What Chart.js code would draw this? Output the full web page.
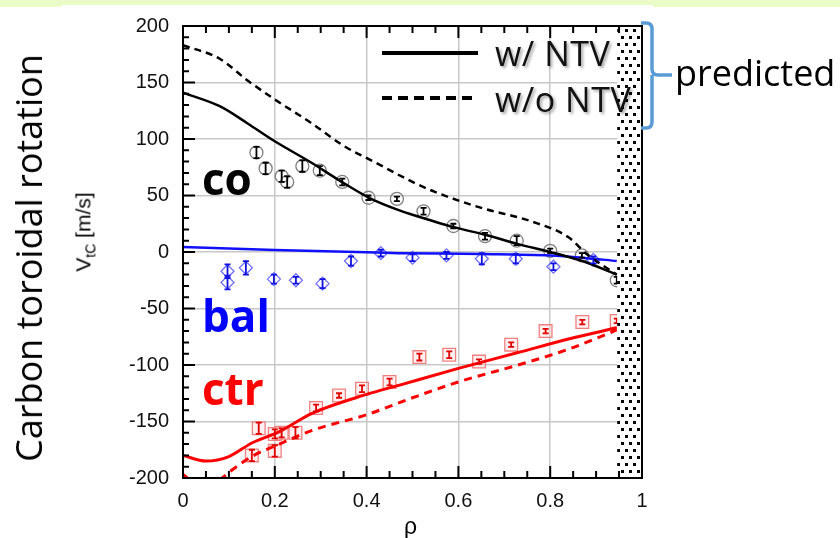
<!DOCTYPE html>
<html>
<head>
<meta charset="utf-8">
<script src="https://cdn.jsdelivr.net/npm/chart.js@4.4.0/dist/chart.umd.min.js"></script>
<style>
html, body { margin: 0; padding: 0; background: #fff; }
#wrap { position: relative; width: 840px; height: 538px; overflow: hidden; background: #fff; }
#chart { position: absolute; left: 0; top: 0; }
.band { position: absolute; background: #ecfcc8; }
.txt { position: absolute; white-space: nowrap; line-height: 1; }
.rot { transform: translate(-50%, -50%) rotate(-90deg); }
.cal { font-family: "Open Sans", "Noto Sans", sans-serif; }
.legtxt { font-size: 34px; letter-spacing: 0.5px; color: #111; text-shadow: 2px 2px 3px rgba(0,0,0,0.35); }
.big { font-family: "Open Sans", sans-serif; font-weight: bold; font-size: 44px; }
</style>
</head>
<body>
<div id="wrap">
  <div class="band" style="left:0;top:0;width:840px;height:5px"></div>
  <div class="band" style="left:0;top:5px;width:62px;height:2px"></div>
  <div class="band" style="left:653px;top:5px;width:187px;height:2px"></div>
  <canvas id="chart" width="840" height="538"></canvas>

  <div class="txt cal rot" style="left:29px;top:258px;font-size:36px">Carbon toroidal rotation</div>
  <div class="txt rot" style="left:85px;top:232px;font-family:'Liberation Sans',Arial,sans-serif;font-size:21px">V<sub style="font-size:14px">tC</sub> [m/s]</div>
  <div class="txt" style="left:404px;top:515px;font-family:'Liberation Sans',Arial,sans-serif;font-size:23px">ρ</div>

  <svg style="position:absolute;left:0;top:0" width="840" height="538">
    <line x1="382" y1="53" x2="478" y2="53" stroke="#000" stroke-width="4"/>
    <line x1="382" y1="98" x2="478" y2="98" stroke="#000" stroke-width="4" stroke-dasharray="10 6"/>
    <path d="M641,23 L646,23 Q652,23 652,29 L652,69 Q652,75 658,75 L672,75 M652,75 L652,122 Q652,128 646,128 L641,128"
          fill="none" stroke="#5b9bd5" stroke-width="3.5"/>
  </svg>
  <div class="txt cal legtxt" style="left:495px;top:36px">w/ NTV</div>
  <div class="txt cal legtxt" style="left:495px;top:82px">w/o NTV</div>

  <div class="txt big" style="left:202px;top:156px;color:#000">co</div>
  <div class="txt big" style="left:202px;top:293px;color:#0000ff">bal</div>
  <div class="txt big" style="left:202px;top:366px;color:#ff0000">ctr</div>

  <div class="txt cal" style="left:675px;top:55px;font-size:36px;color:#000">predicted</div>
</div>

<script>
// model curves (w/ NTV solid, w/o NTV dashed)
const coNtvX = [0, 0.08, 0.14, 0.2, 0.28, 0.35, 0.41, 0.47, 0.5, 0.59, 0.66, 0.73, 0.8, 0.87, 0.945];
const coNtvY = [141, 129, 114, 98, 79, 61, 47, 37, 33, 22, 15, 7, 0, -8, -20];
const coNoX = [0, 0.08, 0.14, 0.2, 0.28, 0.35, 0.42, 0.5, 0.55, 0.65, 0.76, 0.84, 0.88, 0.93, 0.945];
const coNoY = [183, 171, 152, 135, 114, 94, 79, 62, 53, 39, 27, 13, -2, -16, -20];

const balX = [0, 0.2, 0.4, 0.47, 0.65, 0.8, 0.87, 0.945];
const balY = [4.5, 1.7, -0.3, -1, -1.7, -3, -5, -8];

const ctrNtvX = [0, 0.05, 0.1, 0.15, 0.21, 0.28, 0.4, 0.47, 0.6, 0.73, 0.84, 0.945];
const ctrNtvY = [-180, -185, -181, -169, -159, -143, -126, -118, -103, -89, -77, -67];
const ctrNoX = [0, 0.04, 0.085, 0.1, 0.15, 0.21, 0.28, 0.4, 0.5, 0.6, 0.73, 0.84, 0.945];
const ctrNoY = [-197, -208, -200, -195, -181, -170, -158, -144, -129, -115, -100, -86, -69];

// measured points
const coDataX = [0.16, 0.18, 0.215, 0.227, 0.26, 0.298, 0.347, 0.404, 0.466, 0.524, 0.589, 0.658, 0.727, 0.8, 0.869, 0.945];
const coDataY = [88, 74, 67, 62, 76, 72, 62, 48, 47, 36, 23, 14, 10, 1, -3, -25];
const coErr = [5, 5, 5, 5, 5, 4, 3, 2, 2, 3, 2, 3, 4, 2, 2, 3];

const balDataX = [0.097, 0.097, 0.137, 0.198, 0.246, 0.304, 0.366, 0.431, 0.5, 0.574, 0.651, 0.725, 0.807, 0.894];
const balDataY = [-17, -27, -14, -24, -25, -28, -8, -1, -5, -3, -6, -6, -13, -7];
const balErr = [6, 6, 6, 4, 3, 4, 4, 3, 3, 3, 5, 4, 3, 3];

const ctrDataX = [0.15, 0.165, 0.2, 0.2, 0.215, 0.245, 0.29, 0.34, 0.39, 0.45, 0.515, 0.58, 0.645, 0.715, 0.79, 0.87, 0.945];
const ctrDataY = [-180, -156, -176, -161, -160, -160, -138, -127, -121, -115, -93, -91, -97, -82, -70, -62, -61];
const ctrErr = [5, 5, 5, 4, 4, 5, 3, 2, 3, 3, 3, 3, 2, 2, 2, 2, 2];

const xTicks = [0, 0.2, 0.4, 0.6, 0.8, 1];
const yTicks = [-200, -150, -100, -50, 0, 50, 100, 150, 200];
const shadeFrom = 0.946;

const pts = (xs, ys) => xs.map((v, i) => ({ x: v, y: ys[i] }));

function lineSet(xs, ys, color, width, dash) {
    return {
        data: pts(xs, ys),
        showLine: true,
        borderColor: color,
        borderWidth: width,
        borderDash: dash || [],
        pointRadius: 0,
        cubicInterpolationMode: 'monotone',
        fill: false
    };
}

function pointSet(xs, ys, errs, style, radius, border, bg, errColor) {
    return {
        data: pts(xs, ys),
        showLine: false,
        pointStyle: style,
        pointRadius: radius,
        pointBorderWidth: 1.3,
        pointBorderColor: border,
        pointBackgroundColor: bg,
        errors: errs,
        errorColor: errColor
    };
}

// dotted edge region pattern
const dotCanvas = document.createElement('canvas');
dotCanvas.width = 8; dotCanvas.height = 14;
const dctx = dotCanvas.getContext('2d');
dctx.fillStyle = '#fff';
dctx.fillRect(0, 0, 8, 14);
dctx.fillStyle = '#000';
dctx.fillRect(1, 1, 3, 3);
dctx.fillRect(5, 8, 3, 3);

const errorBars = {
    id: 'errorBars',
    afterDatasetsDraw(chart) {
        const { ctx, scales: { x, y } } = chart;
        chart.data.datasets.forEach(ds => {
            if (!ds.errors) return;
            ctx.save();
            ctx.strokeStyle = ds.errorColor;
            ctx.lineWidth = 1.8;
            ds.data.forEach((p, j) => {
                const px = x.getPixelForValue(p.x);
                const top = y.getPixelForValue(p.y + ds.errors[j]);
                const bot = y.getPixelForValue(p.y - ds.errors[j]);
                ctx.beginPath();
                ctx.moveTo(px, top); ctx.lineTo(px, bot);
                ctx.moveTo(px - 3, top); ctx.lineTo(px + 3, top);
                ctx.moveTo(px - 3, bot); ctx.lineTo(px + 3, bot);
                ctx.stroke();
            });
            ctx.restore();
        });
    }
};

const frame = {
    id: 'frame',
    afterDatasetsDraw(chart) {
        const { ctx, chartArea: a, scales: { x } } = chart;
        const left = x.getPixelForValue(shadeFrom);
        ctx.save();
        ctx.fillStyle = ctx.createPattern(dotCanvas, 'repeat');
        ctx.fillRect(left, a.top, a.right - left, a.bottom - a.top);
        ctx.restore();
    },
    afterDraw(chart) {
        const { ctx, chartArea: a, scales: { x, y } } = chart;
        ctx.save();
        ctx.strokeStyle = '#000';
        ctx.lineWidth = 2;
        ctx.beginPath();
        for (let i = 0; i <= 20; i++) {
            const px = x.getPixelForValue(i * 0.05);
            const len = i % 4 === 0 ? 12 : 7;
            ctx.moveTo(px, a.bottom); ctx.lineTo(px, a.bottom - len);
            ctx.moveTo(px, a.top); ctx.lineTo(px, a.top + len);
        }
        for (let i = 0; i <= 40; i++) {
            const v = -200 + i * 10;
            const py = y.getPixelForValue(v);
            const len = v % 50 === 0 ? 12 : 6;
            ctx.moveTo(a.left, py); ctx.lineTo(a.left + len, py);
        }
        ctx.stroke();
        ctx.strokeRect(a.left, a.top, a.right - a.left, a.bottom - a.top);
        ctx.restore();
    }
};

new Chart(document.getElementById('chart'), {
    type: 'scatter',
    data: {
        datasets: [
            lineSet(coNtvX, coNtvY, '#000', 2.5),
            lineSet(coNoX, coNoY, '#000', 2.5, [7, 5]),
            lineSet(balX, balY, '#1010ff', 2.5),
            lineSet(ctrNtvX, ctrNtvY, '#ff0000', 3),
            lineSet(ctrNoX, ctrNoY, '#ff0000', 3, [8, 6]),
            pointSet(coDataX, coDataY, coErr, 'circle', 6.5, '#808080', 'rgba(0,0,0,0)', '#000'),
            pointSet(balDataX, balDataY, balErr, 'rectRot', 6.5, '#7070ff', 'rgba(0,0,0,0)', '#1010e0'),
            pointSet(ctrDataX, ctrDataY, ctrErr, 'rect', 9, '#f08080', 'rgba(255,220,220,0.4)', '#e00000')
        ]
    },
    options: {
        responsive: false,
        animation: false,
        layout: { padding: { left: 0, right: 198, top: 18, bottom: 0 } },
        plugins: {
            legend: { display: false },
            tooltip: { enabled: false }
        },
        scales: {
            x: {
                type: 'linear',
                min: 0,
                max: 1,
                afterFit: s => { s.height = 60; },
                afterBuildTicks: s => { s.ticks = xTicks.map(v => ({ value: v })); },
                grid: { color: '#c8c8c8', lineWidth: 1.5, drawTicks: false },
                border: { display: false },
                ticks: {
                    color: '#111',
                    padding: 11,
                    maxRotation: 0,
                    callback: v => String(+Number(v).toFixed(2)),
                    font: { family: 'Liberation Sans', size: 20 }
                }
            },
            y: {
                min: -200,
                max: 200,
                afterFit: s => { s.width = 183; },
                afterBuildTicks: s => { s.ticks = yTicks.map(v => ({ value: v })); },
                grid: { color: '#c8c8c8', lineWidth: 1.5, drawTicks: false },
                border: { display: false },
                ticks: {
                    color: '#111',
                    padding: 14,
                    font: { family: 'Liberation Sans', size: 20 }
                }
            }
        }
    },
    plugins: [errorBars, frame]
});
</script>
</body>
</html>
